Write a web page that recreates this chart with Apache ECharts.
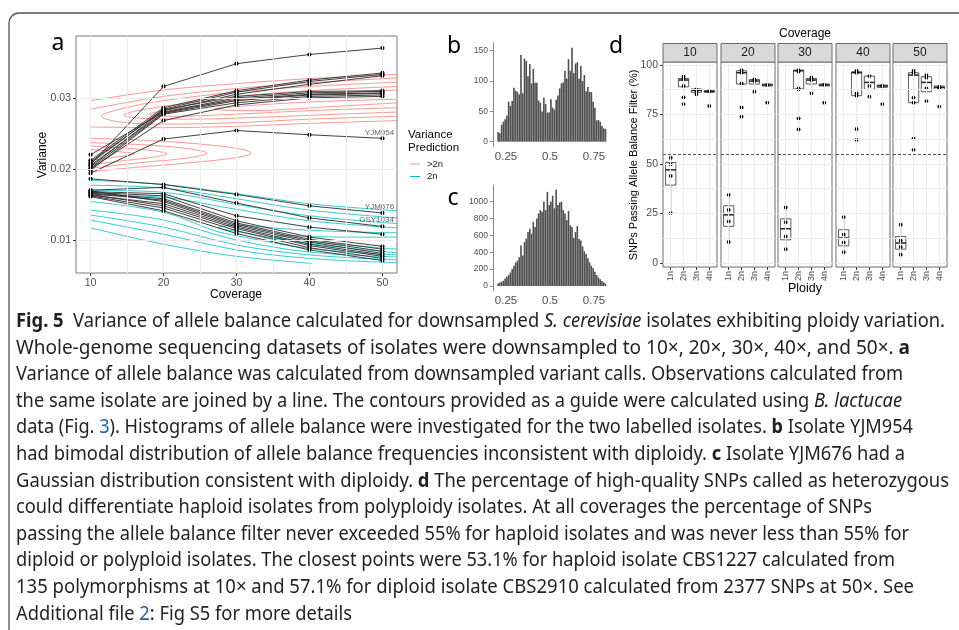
<!DOCTYPE html>
<html><head><meta charset="utf-8">
<script src="https://cdn.jsdelivr.net/npm/echarts@6/dist/echarts.min.js"></script>
<style>html,body{margin:0;padding:0;background:#fff}#c{width:959px;height:630px}</style>
</head><body><div id="c"></div>
<script>
// ---------------- DATA ----------------
// Panel a
const coverage = [10, 20, 30, 40, 50];
const varianceAbove2n = [
  [0.0206, 0.0316, 0.0348, 0.0361, 0.0370],
  [0.0212, 0.0286, 0.0310, 0.0325, 0.0335],
  [0.0208, 0.0284, 0.0308, 0.0323, 0.0333],
  [0.0203, 0.0282, 0.0305, 0.0319, 0.0331],
  [0.0210, 0.0283, 0.0302, 0.0309, 0.0310],
  [0.0220, 0.0280, 0.0300, 0.0307, 0.0309],
  [0.0205, 0.0279, 0.0298, 0.0305, 0.0307],
  [0.0201, 0.0278, 0.0296, 0.0304, 0.0306],
  [0.0198, 0.0277, 0.0293, 0.0302, 0.0304],
  [0.0200, 0.0268, 0.0290, 0.0300, 0.0302],
  [0.0194, 0.0242, 0.0254, 0.0248, 0.0243]
];
const variance2n = [
  [0.0186, 0.0178, 0.0164, 0.0148, 0.0138],
  [0.0170, 0.0174, 0.0152, 0.0131, 0.0119],
  [0.0168, 0.0165, 0.0134, 0.0118, 0.0108],
  [0.0167, 0.0162, 0.0127, 0.0104, 0.0091],
  [0.0166, 0.0158, 0.0124, 0.0101, 0.0087],
  [0.0165, 0.0156, 0.0122, 0.0099, 0.0084],
  [0.0169, 0.0154, 0.0120, 0.0097, 0.0081],
  [0.0163, 0.0151, 0.0118, 0.0094, 0.0079],
  [0.0164, 0.0148, 0.0116, 0.0092, 0.0077],
  [0.0162, 0.0145, 0.0113, 0.0089, 0.0074],
  [0.0161, 0.0141, 0.0109, 0.0086, 0.0071]
];
const isolateLabels = ['YJM954', 'YJM676', 'GSY1034'];
const isolateLabelAt = [[49.6, 0.0251], [49.6, 0.0147], [49.2, 0.0128]];
const contoursAbove2n = [
  [[10,0.0296],[20,0.0311],[30,0.0320],[40,0.0327],[52,0.0333]],
  [[10,0.0284],[20,0.0302],[30,0.0313],[40,0.0321],[52,0.0328]],
  [[52,0.0322],[40,0.0316],[30,0.0308],[20,0.0296],[14,0.0284],[11.5,0.0274],[14,0.0266],[20,0.0263],[30,0.0265],[40,0.0270],[52,0.0274]],
  [[52,0.0316],[40,0.0310],[30,0.0302],[22,0.0291],[16,0.0281],[14.5,0.0276],[17,0.0271],[24,0.0270],[34,0.0273],[44,0.0277],[52,0.0280]],
  [[52,0.0311],[42,0.0306],[32,0.0298],[24,0.0288],[19,0.0280],[18,0.0277],[21,0.0274],[30,0.0277],[40,0.0282],[52,0.0286]],
  [[52,0.0298],[42,0.0295],[33,0.0290],[27,0.0284],[32,0.0282],[42,0.0287],[52,0.0293]],
  [[10,0.0259],[20,0.0258],[30,0.0260],[40,0.0264],[52,0.0268]],
  [[10,0.0243],[18,0.0240],[26,0.0234],[31,0.0227],[32,0.0222],[30,0.0216],[24,0.0209],[16,0.0202],[10,0.0196]],
  [[10,0.0237],[17,0.0234],[23,0.0229],[26,0.0222],[23,0.0215],[17,0.0209],[10,0.0201]],
  [[10,0.0232],[15,0.0229],[19,0.0225],[20.5,0.0221],[19,0.0217],[15,0.0212],[10,0.0206]],
  [[10,0.0227],[13,0.0225],[16,0.0221],[13,0.0216],[10,0.0212]]
];
const contours2n = [
  [[10,0.0184],[20,0.0178],[30,0.0165],[40,0.0151],[52,0.0141]],
  [[10,0.0177],[20,0.0173],[30,0.0158],[40,0.0142],[52,0.0131]],
  [[10,0.0170],[20,0.0167],[30,0.0150],[40,0.0134],[52,0.0123]],
  [[10,0.0163],[20,0.0160],[30,0.0143],[40,0.0127],[52,0.0117]],
  [[52,0.0110],[44,0.0112],[36,0.0116],[30,0.0121],[27.5,0.0117],[30,0.0112],[36,0.0101],[44,0.0090],[52,0.0082]],
  [[52,0.0104],[44,0.0104],[38,0.0106],[34.6,0.0104],[38,0.0100],[44,0.0094],[52,0.0087]],
  [[10,0.0154],[20,0.0139],[27,0.0113],[30,0.0106],[40,0.0088],[52,0.0079]],
  [[10,0.0142],[20,0.0128],[30,0.0100],[40,0.0083],[52,0.0076]],
  [[10,0.0135],[20,0.0118],[30,0.0093],[40,0.0079],[52,0.0072]],
  [[10,0.0128],[20,0.0108],[30,0.0086],[40,0.0074],[52,0.0068]],
  [[10,0.0117],[20,0.0094],[30,0.0077],[40.3,0.0067]]
];
// Panels b & c (histograms of allele balance)
const binCentres = [0.205,0.215,0.225,0.235,0.245,0.255,0.265,0.275,0.285,0.295,
  0.305,0.315,0.325,0.335,0.345,0.355,0.365,0.375,0.385,0.395,
  0.405,0.415,0.425,0.435,0.445,0.455,0.465,0.475,0.485,0.495,
  0.505,0.515,0.525,0.535,0.545,0.555,0.565,0.575,0.585,0.595,
  0.605,0.615,0.625,0.635,0.645,0.655,0.665,0.675,0.685,0.695,
  0.705,0.715,0.725,0.735,0.745,0.755,0.765,0.775,0.785,0.795,
  0.805,0.815];
const countsYJM954 = [16,14,28,33,37,43,66,59,67,89,
  84,82,78,143,80,137,133,108,128,96,
  120,97,97,68,64,50,73,62,48,48,
  70,56,53,69,76,88,96,98,117,104,
  136,117,155,113,129,131,104,125,100,110,
  83,90,82,82,66,56,35,36,33,26,
  22,21];
const countsYJM676 = [30,40,50,62,90,110,130,160,200,240,
  280,300,340,480,360,520,560,640,680,620,
  760,700,800,860,900,880,1000,900,1115,960,
  1000,1070,920,1140,960,990,1000,900,860,780,
  890,720,700,570,640,710,560,540,470,410,
  380,330,280,240,210,170,130,100,80,60,
  45,30];
// Panel d
const facetCoverage = ['10', '20', '30', '40', '50'];
const ploidy = ['1n', '2n', '3n', '4n'];
// box stats per ploidy: [lower whisker, Q1, median, Q3, upper whisker]
const box10 = [[25.2,39.3,47.0,50.7,53.4],[83.6,88.9,92.3,93.1,94.0],[85.1,86.1,87.1,87.8,87.8],[86.1,86.1,86.6,86.9,86.9]];
const box20 = [[10.6,18.5,24.3,28.9,34.4],[90.3,90.3,96.0,97.0,97.3],[86.4,90.3,91.8,92.6,92.6],[89.3,89.3,89.8,90.3,90.3]];
const box30 = [[7.0,11.7,17.3,22.3,28.0],[67.4,87.8,97.0,97.3,97.3],[85.6,90.3,92.3,93.1,93.6],[89.3,89.3,89.8,90.3,90.3]];
const box40 = [[5.5,8.7,12.6,16.8,23.2],[62.1,84.4,96.0,96.5,97.0],[83.9,87.6,91.1,94.3,94.3],[88.6,88.6,89.3,89.8,89.8]];
const box50 = [[4.2,7.0,10.1,13.4,19.3],[57.1,80.9,94.8,96.0,97.0],[81.7,86.4,91.1,94.0,94.8],[87.6,87.6,88.6,89.3,89.3]];
const pts10 = [[53.1,49.8,43.9,25.2],[94.0,92.8,89.3,83.6,80.2],[87.6,86.7,85.1],[86.6,79.2]];
const pts20 = [[34.4,26.8,21.0,10.6],[97.3,96.0,90.6,78.5,73.8],[92.6,91.8,86.4],[89.8,80.9]];
const pts30 = [[28.0,20.6,13.4,7.0],[97.3,96.5,88.1,87.6,73.0,67.4],[93.6,92.3,85.6],[90.0,80.9]];
const pts40 = [[23.2,14.4,10.4,5.5],[97.0,96.0,85.6,84.4,67.6,62.1],[94.3,89.3,83.9],[89.3,80.2]];
const pts50 = [[19.3,11.4,8.1,4.2],[97.0,96.0,83.4,80.9,62.8,57.1],[94.8,93.5,88.1,81.7],[88.9,88.1,78.9]];
const thresholdPct = 55;
// Caption
const captionLines = [
  [['b','Fig. 5'],['n','  Variance of allele balance calculated for downsampled '],['i','S. cerevisiae'],['n',' isolates exhibiting ploidy variation.']],
  [['n','Whole-genome sequencing datasets of isolates were downsampled to 10\u00d7, 20\u00d7, 30\u00d7, 40\u00d7, and 50\u00d7. '],['b','a']],
  [['n','Variance of allele balance was calculated from downsampled variant calls. Observations calculated from']],
  [['n','the same isolate are joined by a line. The contours provided as a guide were calculated using '],['i','B. lactucae']],
  [['n','data (Fig. '],['l','3'],['n','). Histograms of allele balance were investigated for the two labelled isolates. '],['b','b'],['n',' Isolate YJM954']],
  [['n','had bimodal distribution of allele balance frequencies inconsistent with diploidy. '],['b','c'],['n',' Isolate YJM676 had a']],
  [['n','Gaussian distribution consistent with diploidy. '],['b','d'],['n',' The percentage of high-quality SNPs called as heterozygous']],
  [['n','could differentiate haploid isolates from polyploidy isolates. At all coverages the percentage of SNPs']],
  [['n','passing the allele balance filter never exceeded 55% for haploid isolates and was never less than 55% for']],
  [['n','diploid or polyploid isolates. The closest points were 53.1% for haploid isolate CBS1227 calculated from']],
  [['n','135 polymorphisms at 10\u00d7 and 57.1% for diploid isolate CBS2910 calculated from 2377 SNPs at 50\u00d7. See']],
  [['n','Additional file '],['l','2'],['n',': Fig S5 for more details']]
];

// ---------------- LAYOUT ----------------
const SANS = '"Liberation Sans", Arial, sans-serif';
const CAP = '"Noto Sans", "Open Sans", sans-serif';
const captionRightEnds = [945, 910, 903, 902, 913, 905, 949, 872, 909, 895, 914, 352];
const captionLeft = 16, captionTop = 321.5, captionStep = 26.6, captionSize = 19;
const facetLefts = [663, 721, 778, 836, 893];
const facetW = 54, facetTop = 62, facetH = 205;

const chart = echarts.init(document.getElementById('c'), null, {renderer: 'canvas', width: 959, height: 630});

const grids = [], xAxes = [], yAxes = [], series = [], graphics = [];
const tickLbl = {color: '#4d4d4d', fontFamily: SANS, fontSize: 10.5};
// solid round dots drawn through the axes' scales
function dotSeries(gi, data, r, z) {
  return {type: 'custom', xAxisIndex: gi, yAxisIndex: gi, silent: true, z: z, encode: {x: 0, y: 1}, data: data,
    renderItem: (params, api) => {
      const p = api.coord([api.value(0), api.value(1)]);
      return {type: 'circle', shape: {cx: p[0], cy: p[1], r: r}, style: {fill: '#000', stroke: null}};
    }};
}

// ---- panel a ----
grids.push({left: 76, top: 36, width: 321, height: 237, show: true, backgroundColor: '#fff', borderColor: '#7a7a7a', borderWidth: 1, outerBoundsMode: 'none'});
xAxes.push({gridIndex: 0, type: 'value', min: 8, max: 52,
  axisLine: {show: false, onZero: false}, splitLine: {show: false},
  axisTick: {show: true, length: 3, customValues: coverage, lineStyle: {color: '#333'}},
  axisLabel: Object.assign({customValues: coverage, margin: 5}, tickLbl)});
yAxes.push({gridIndex: 0, type: 'value', min: 0.00535, max: 0.0387,
  axisLine: {show: false, onZero: false}, splitLine: {show: false},
  axisTick: {show: true, length: 3, customValues: [0.01, 0.02, 0.03], lineStyle: {color: '#333'}},
  axisLabel: Object.assign({customValues: [0.01, 0.02, 0.03], margin: 5, formatter: v => v.toFixed(2)}, tickLbl)});
series.push({type: 'line', xAxisIndex: 0, yAxisIndex: 0, data: [], silent: true, z: 1,
  markLine: {silent: true, symbol: ['none', 'none'], animation: false, label: {show: false},
    lineStyle: {color: '#ececec', width: 1, type: 'solid'},
    data: [10, 15, 20, 25, 30, 35, 40, 45, 50].map(v => ({xAxis: v}))
      .concat([0.01, 0.015, 0.02, 0.025, 0.03, 0.035].map(v => ({yAxis: v})))}});
contoursAbove2n.forEach(c => series.push({type: 'line', xAxisIndex: 0, yAxisIndex: 0, data: c, smooth: 0.35,
  showSymbol: false, silent: true, z: 2, lineStyle: {color: '#F8766D', width: 1, opacity: 0.75}}));
contours2n.forEach(c => series.push({type: 'line', xAxisIndex: 0, yAxisIndex: 0, data: c, smooth: 0.35,
  showSymbol: false, silent: true, z: 2, lineStyle: {color: '#00BFC4', width: 1, opacity: 0.8}}));
const isoPoints = [];
varianceAbove2n.concat(variance2n).forEach(v => {
  const d = coverage.map((c, i) => [c, v[i]]);
  d.forEach(p => isoPoints.push(p));
  series.push({type: 'line', xAxisIndex: 0, yAxisIndex: 0, data: d, showSymbol: false, symbol: 'none', silent: true, z: 3,
    lineStyle: {color: '#2a2a2a', width: 0.9}});
});
series.push(dotSeries(0, isoPoints, 2.1, 4));
series.push({type: 'scatter', xAxisIndex: 0, yAxisIndex: 0, symbolSize: 0, silent: true, z: 4,
  data: isolateLabels.map((n, i) => ({name: n, value: isolateLabelAt[i]})),
  label: {show: true, position: 'inside', formatter: p => p.name, color: '#333', fontFamily: SANS, fontSize: 8}});

// ---- panels b, c ----
const histCfg = [
  {top: 43, height: 103.4, min: -7.75, max: 162.75, ticks: [0, 50, 100, 150], counts: countsYJM954},
  {top: 185, height: 105.8, min: -57, max: 1197, ticks: [0, 200, 400, 600, 800, 1000], counts: countsYJM676}
];
histCfg.forEach((h, k) => {
  const gi = 1 + k;
  grids.push({left: 493, top: h.top, width: 118.8, height: h.height, show: false, outerBoundsMode: 'none'});
  xAxes.push({gridIndex: gi, type: 'value', min: 0.176, max: 0.851,
    axisLine: {show: false, onZero: false}, splitLine: {show: false}, axisTick: {show: false},
    axisLabel: {customValues: [0.25, 0.5, 0.75], formatter: v => String(v), margin: 4, color: '#4d4d4d', fontFamily: SANS, fontSize: 11.5}});
  yAxes.push({gridIndex: gi, type: 'value', min: h.min, max: h.max,
    axisLine: {show: true, onZero: false, lineStyle: {color: '#8a8a8a', width: 1}}, splitLine: {show: false},
    axisTick: {show: true, length: 3, customValues: h.ticks, lineStyle: {color: '#8a8a8a'}},
    axisLabel: {customValues: h.ticks, formatter: v => String(v), margin: 5, color: '#4d4d4d', fontFamily: SANS, fontSize: 8.5}});
  series.push({type: 'bar', xAxisIndex: gi, yAxisIndex: gi, barWidth: 1.6, silent: true,
    data: binCentres.map((b, i) => [b, h.counts[i]]), itemStyle: {color: '#4f4f4f', borderWidth: 0}});
});

// ---- panel d ----
const boxes = [box10, box20, box30, box40, box50];
const points = [pts10, pts20, pts30, pts40, pts50];
function renderBox(params, api) {
  const x = api.value(0);
  const lo = api.coord([x, api.value(1)]), q1 = api.coord([x, api.value(2)]);
  const md = api.coord([x, api.value(3)]), q3 = api.coord([x, api.value(4)]);
  const hi = api.coord([x, api.value(5)]);
  const hw = api.size([0.8, 0])[0] / 2;
  const st = {stroke: '#333', lineWidth: 0.8};
  return {type: 'group', children: [
    {type: 'line', shape: {x1: lo[0], y1: lo[1], x2: q1[0], y2: q1[1]}, style: st},
    {type: 'line', shape: {x1: q3[0], y1: q3[1], x2: hi[0], y2: hi[1]}, style: st},
    {type: 'rect', shape: {x: q1[0] - hw, y: q3[1], width: hw * 2, height: Math.max(q1[1] - q3[1], 0.5)}, style: {fill: '#fff', stroke: '#333', lineWidth: 0.8}},
    {type: 'line', shape: {x1: md[0] - hw, y1: md[1], x2: md[0] + hw, y2: md[1]}, style: {stroke: '#222', lineWidth: 1.5}}
  ]};
}
facetCoverage.forEach((cov, f) => {
  const gi = 3 + f;
  grids.push({left: facetLefts[f], top: facetTop, width: facetW, height: facetH, show: true,
    backgroundColor: '#fff', borderColor: '#6a6a6a', borderWidth: 1, outerBoundsMode: 'none'});
  xAxes.push({gridIndex: gi, type: 'value', min: 0.4, max: 4.6,
    axisLine: {show: false, onZero: false}, splitLine: {show: false},
    axisTick: {show: true, length: 3, customValues: [1, 2, 3, 4], lineStyle: {color: '#333'}},
    axisLabel: {customValues: [1, 2, 3, 4], formatter: v => ploidy[Math.round(v) - 1], rotate: 90, margin: 4,
      color: '#4d4d4d', fontFamily: SANS, fontSize: 9, hideOverlap: false}});
  yAxes.push({gridIndex: gi, type: 'value', min: -2, max: 101.4,
    axisLine: {show: false, onZero: false}, splitLine: {show: false},
    axisTick: {show: f === 0, length: 3, customValues: [0, 25, 50, 75, 100], lineStyle: {color: '#333'}},
    axisLabel: {show: f === 0, customValues: [0, 25, 50, 75, 100], margin: 5, color: '#4d4d4d', fontFamily: SANS, fontSize: 10.5}});
  series.push({type: 'line', xAxisIndex: gi, yAxisIndex: gi, data: [], silent: true, z: 1,
    markLine: {silent: true, symbol: ['none', 'none'], animation: false, label: {show: false},
      lineStyle: {color: '#ececec', width: 1, type: 'solid'},
      data: [1, 2, 3, 4].map(v => ({xAxis: v}))
        .concat([0, 12.5, 25, 37.5, 50, 62.5, 75, 87.5, 100].map(v => ({yAxis: v})))
        .concat([{yAxis: thresholdPct, lineStyle: {color: '#555', width: 1, type: [3, 2]}}])}});
  series.push({type: 'custom', xAxisIndex: gi, yAxisIndex: gi, silent: true, z: 3,
    renderItem: renderBox, encode: {x: 0, y: [1, 2, 3, 4, 5]},
    data: boxes[f].map((b, i) => [i + 1].concat(b))});
  const sp = [];
  points[f].forEach((arr, i) => arr.forEach(v => sp.push([i + 1, v])));
  series.push(dotSeries(gi, sp, 1.9, 4));
  graphics.push({type: 'rect', shape: {x: facetLefts[f], y: 43.5, width: facetW, height: 18.5},
    style: {fill: '#d9d9d9', stroke: '#6a6a6a', lineWidth: 1}, z: 10});
  graphics.push({type: 'text', x: facetLefts[f] + facetW / 2, y: 53, z: 11,
    style: {text: cov, fill: '#1a1a1a', fontFamily: SANS, fontSize: 12, textAlign: 'center', textVerticalAlign: 'middle'}});
});

// ---- texts ----
function txt(x, y, s, size, font) {
  return {type: 'text', x: x, y: y, z: 10,
    style: {text: s, fill: '#000', fontFamily: font || SANS, fontSize: size, textAlign: 'center', textVerticalAlign: 'middle'}};
}
graphics.push(txt(58, 43, 'a', 23, CAP));
graphics.push(txt(454, 46, 'b', 23, CAP));
graphics.push(txt(453, 198, 'c', 23, CAP));
graphics.push(txt(616, 46, 'd', 23, CAP));
graphics.push(txt(236, 295, 'Coverage', 12));
graphics.push(Object.assign(txt(43, 155, 'Variance', 12), {rotation: Math.PI / 2}));
graphics.push({type: 'text', x: 408, y: 135, z: 10, style: {text: 'Variance', fill: '#000', fontFamily: SANS, fontSize: 11.5, textVerticalAlign: 'middle'}});
graphics.push({type: 'text', x: 408, y: 148, z: 10, style: {text: 'Prediction', fill: '#000', fontFamily: SANS, fontSize: 11.5, textVerticalAlign: 'middle'}});
graphics.push({type: 'line', z: 10, shape: {x1: 410, y1: 164, x2: 420, y2: 164}, style: {stroke: '#F8766D', lineWidth: 1, opacity: 0.8}});
graphics.push({type: 'line', z: 10, shape: {x1: 410, y1: 176.5, x2: 420, y2: 176.5}, style: {stroke: '#00BFC4', lineWidth: 1}});
graphics.push({type: 'text', x: 427, y: 164, z: 10, style: {text: '>2n', fill: '#222', fontFamily: SANS, fontSize: 9.5, textVerticalAlign: 'middle'}});
graphics.push({type: 'text', x: 427, y: 176.5, z: 10, style: {text: '2n', fill: '#222', fontFamily: SANS, fontSize: 9.5, textVerticalAlign: 'middle'}});
graphics.push(txt(805, 34, 'Coverage', 12));
graphics.push(txt(805, 289, 'Ploidy', 12.5));
graphics.push(Object.assign(txt(634, 165, 'SNPs Passing Allele Balance Filter (%)', 11), {rotation: Math.PI / 2}));

// frame
graphics.push({type: 'rect', z: 0, shape: {x: 9, y: 13, width: 1000, height: 700, r: 10},
  style: {fill: 'none', stroke: '#555', lineWidth: 1.3}});

// caption
const mctx = document.createElement('canvas').getContext('2d');
function segStyle(t) {
  return {fontFamily: CAP, fontSize: captionSize, fontWeight: t === 'b' ? 'bold' : 'normal',
    fontStyle: t === 'i' ? 'italic' : 'normal', fill: t === 'l' ? '#1f5fae' : '#231f20'};
}
captionLines.forEach((line, li) => {
  let x = 0; const kids = [];
  line.forEach(([t, s]) => {
    const st = segStyle(t);
    mctx.font = st.fontStyle + ' ' + st.fontWeight + ' ' + st.fontSize + 'px ' + st.fontFamily;
    const w = mctx.measureText(s).width;
    kids.push({type: 'text', x: x, y: 0, style: Object.assign({text: s, textAlign: 'left', textVerticalAlign: 'middle'}, st)});
    x += w;
  });
  const sx = (captionRightEnds[li] - captionLeft) / x;
  graphics.push({type: 'group', x: captionLeft, y: captionTop + li * captionStep, scaleX: sx, z: 10, children: kids});
});

chart.setOption({
  animation: false,
  backgroundColor: '#fff',
  textStyle: {fontFamily: SANS},
  grid: grids, xAxis: xAxes, yAxis: yAxes, series: series, graphic: graphics
});
</script></body></html>
